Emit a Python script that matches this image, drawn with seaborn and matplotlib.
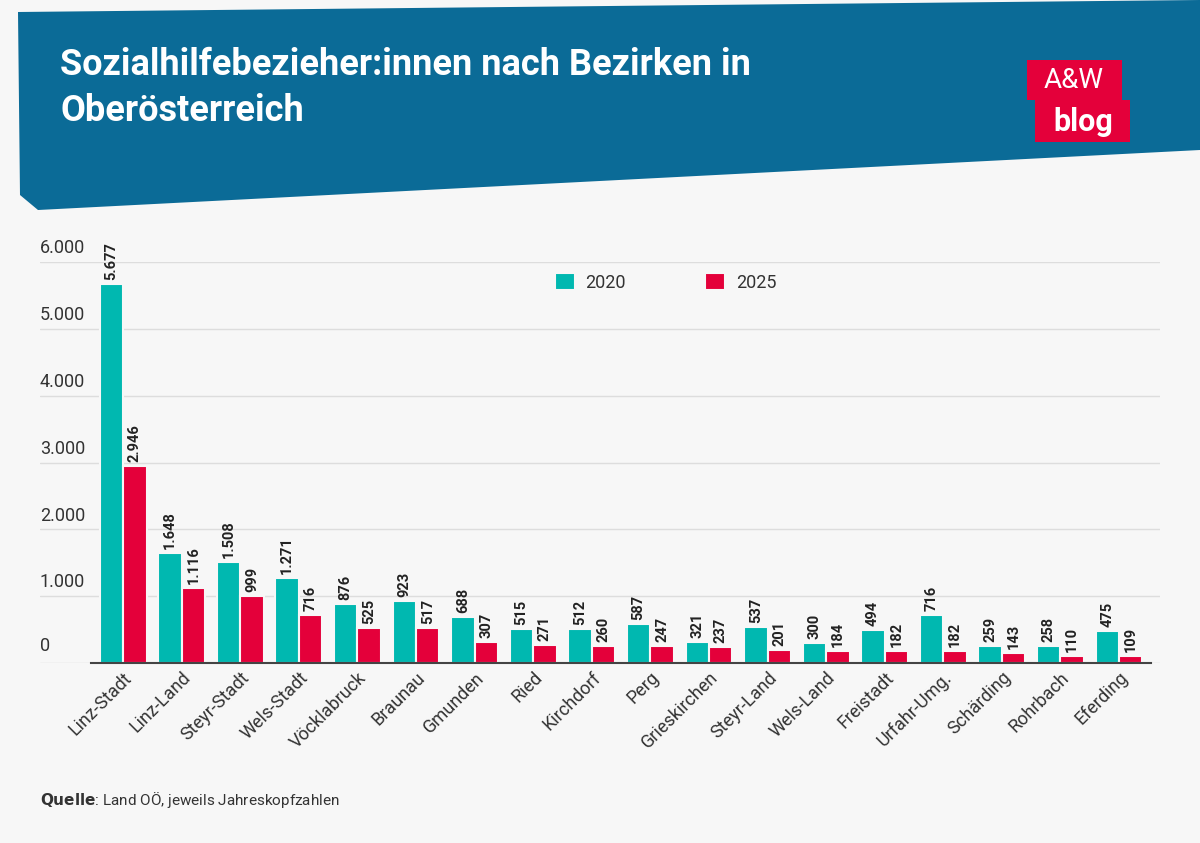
import matplotlib
matplotlib.use('Agg')
import matplotlib.pyplot as plt
import seaborn as sns
import pandas as pd
from matplotlib.patches import Polygon, Rectangle

# ── Data ──────────────────────────────────────────────────────────────────────
bezirke = ['Linz-Stadt', 'Linz-Land', 'Steyr-Stadt', 'Wels-Stadt', 'Vöcklabruck',
           'Braunau', 'Gmunden', 'Ried', 'Kirchdorf', 'Perg', 'Grieskirchen',
           'Steyr-Land', 'Wels-Land', 'Freistadt', 'Urfahr-Umg.', 'Schärding',
           'Rohrbach', 'Eferding']
werte_2020 = [5677, 1648, 1508, 1271, 876, 923, 688, 515, 512, 587, 321, 537,
              300, 494, 716, 259, 258, 475]
werte_2025 = [2946, 1116, 999, 716, 525, 517, 307, 271, 260, 247, 237, 201,
              184, 182, 182, 143, 110, 109]
yticks = [0, 1000, 2000, 3000, 4000, 5000, 6000]

TEAL = '#00b8b0'
RED = '#e4003a'
BLUE = '#0b6b97'
TEXT = '#333333'

df = pd.DataFrame({
    'Bezirk': bezirke * 2,
    'Wert': werte_2020 + werte_2025,
    'Jahr': ['2020'] * len(bezirke) + ['2025'] * len(bezirke),
})

def fmt(v):
    return f'{v:,}'.replace(',', '.')

sns.set_style('white')
plt.rcParams['font.family'] = ['Roboto', 'DejaVu Sans']

fig = plt.figure(figsize=(12, 8.43), dpi=100)
fig.patch.set_facecolor('#f7f7f7')

# ── Header banner ─────────────────────────────────────────────────────────────
W, H = 1200, 843
def fp(x, y):
    return (x / W, 1 - y / H)
banner = Polygon([fp(18, 12), fp(1200, 0), fp(1200, 150), fp(38, 210), fp(20, 195)],
                 closed=True, transform=fig.transFigure, facecolor=BLUE, edgecolor='none')
fig.patches.append(banner)
fig.text(60 / W, 1 - 88 / H, 'Sozialhilfebezieher:innen nach Bezirken in\nOberösterreich',
         color='white', fontsize=26, fontweight='bold', va='center', ha='left',
         linespacing=1.35)
# logo
fig.patches.append(Rectangle(fp(1027, 100), 95 / W, 40 / H, transform=fig.transFigure,
                             facecolor=RED, edgecolor='none'))
fig.patches.append(Rectangle(fp(1035, 142), 95 / W, 42 / H, transform=fig.transFigure,
                             facecolor=RED, edgecolor='none'))
fig.text(1074 / W, 1 - 80 / H, 'A&W', color='white', fontsize=20, ha='center', va='center')
fig.text(1083 / W, 1 - 122 / H, 'blog', color='white', fontsize=22, fontweight='bold',
         ha='center', va='center')

# ── Bars ──────────────────────────────────────────────────────────────────────
ax = fig.add_axes([40 / W, 1 - 663 / H, 1120 / W, 401 / H])
ax.set_facecolor('#f7f7f7')
sns.barplot(data=df, x='Bezirk', y='Wert', hue='Jahr', palette=[TEAL, RED],
            saturation=1, width=0.8, edgecolor='#f7f7f7', linewidth=1.5, ax=ax,
            legend=True)

ax.set_xlim(-1.42, len(bezirke) - 0.3)
ax.set_ylim(0, 6000)
ax.set_yticks(yticks)
ax.yaxis.grid(True, color='#dddddd', linewidth=1)
ax.set_axisbelow(True)
ax.tick_params(axis='y', length=0, labelleft=False)
for t in yticks:
    ax.text(-1.42, t + 70 if t else 120, fmt(t), ha='left', va='bottom',
            fontsize=13, color=TEXT)

for cont in ax.containers:
    for bar in cont:
        h = bar.get_height()
        ax.text(bar.get_x() + bar.get_width() / 2, h + 60, fmt(int(round(h))),
                rotation=90, ha='center', va='bottom', fontsize=10.5,
                fontweight='bold', color='#222222', clip_on=False)

for s in ['top', 'right', 'left']:
    ax.spines[s].set_visible(False)
ax.spines['bottom'].set_color('#444444')
ax.spines['bottom'].set_linewidth(1.5)
ax.spines['bottom'].set_bounds(-0.55, len(bezirke) - 0.45)
ax.set_xticks([i - 0.5 for i in range(len(bezirke) + 1)], minor=True)
ax.tick_params(axis='x', which='minor', length=6, color='#444444', width=1)
ax.tick_params(axis='x', which='major', length=0, pad=4)
ax.set_xticks(range(len(bezirke)))
ax.set_xticklabels(bezirke, rotation=45, ha='right', rotation_mode='anchor',
                   fontsize=13, color=TEXT)
ax.set_xlabel('')
ax.set_ylabel('')

leg = ax.legend(loc='upper left', bbox_to_anchor=((544 - 40) / 1120, 1.0), ncol=2,
                frameon=False, fontsize=13, handlelength=1.1, handleheight=1.1,
                handletextpad=0.6, columnspacing=4.4, labelcolor=TEXT,
                borderaxespad=0.2)

fig.text(40 / W, 1 - 800 / H, r'$\bf{Quelle}$: Land OÖ, jeweils Jahreskopfzahlen',
         fontsize=11, color=TEXT, va='center')

fig.savefig('out.png', dpi=100, facecolor=fig.get_facecolor())
